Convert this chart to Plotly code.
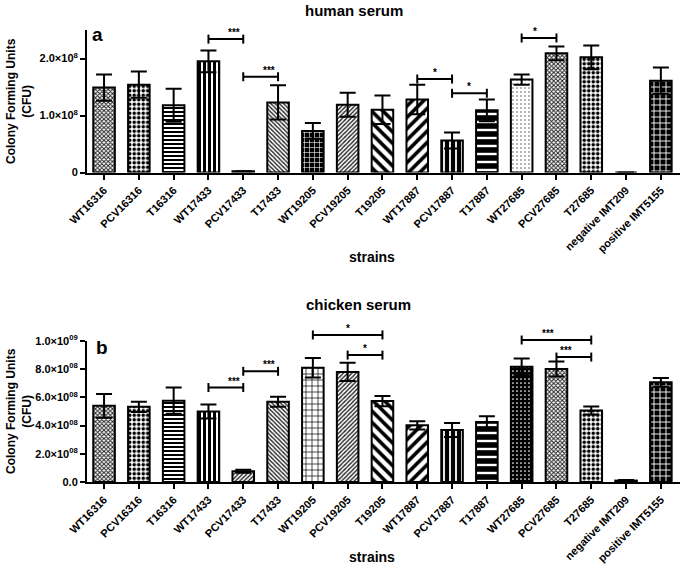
import plotly.graph_objects as go

strains = ["WT16316", "PCV16316", "T16316", "WT17433", "PCV17433", "T17433",
           "WT19205", "PCV19205", "T19205", "WT17887", "PCV17887", "T17887",
           "WT27685", "PCV27685", "T27685", "negative IMT209", "positive IMT5155"]

# human serum, CFU (mean, SD)
human_cfu = [1.49e8, 1.54e8, 1.18e8, 1.95e8, 0.02e8, 1.23e8, 0.73e8, 1.19e8, 1.10e8,
             1.28e8, 0.56e8, 1.09e8, 1.63e8, 2.09e8, 2.02e8, 0.0, 1.61e8]
human_sd = [0.23e8, 0.23e8, 0.29e8, 0.19e8, 0.0, 0.30e8, 0.14e8, 0.21e8, 0.25e8,
            0.26e8, 0.14e8, 0.19e8, 0.09e8, 0.12e8, 0.21e8, 0.0, 0.23e8]

# chicken serum, CFU (mean, SD)
chicken_cfu = [5.40e8, 5.33e8, 5.77e8, 5.00e8, 0.76e8, 5.69e8, 8.10e8, 7.81e8, 5.74e8,
               4.02e8, 3.69e8, 4.26e8, 8.17e8, 8.02e8, 5.07e8, 0.10e8, 7.07e8]
chicken_sd = [0.84e8, 0.36e8, 0.93e8, 0.50e8, 0.10e8, 0.36e8, 0.69e8, 0.64e8, 0.36e8,
              0.29e8, 0.50e8, 0.41e8, 0.59e8, 0.53e8, 0.29e8, 0.04e8, 0.31e8]

# significance brackets: (bar i, bar j, height, label)
human_sig = [(3, 4, 2.34e8, "***"), (4, 5, 1.68e8, "***"), (9, 10, 1.64e8, "*"),
             (10, 11, 1.39e8, "*"), (12, 13, 2.36e8, "*")]
chicken_sig = [(3, 4, 6.7e8, "***"), (4, 5, 7.85e8, "***"), (6, 8, 10.43e8, "*"),
               (7, 8, 9.0e8, "*"), (12, 14, 10.07e8, "***"), (13, 14, 8.86e8, "***")]

human_ticks = [0, 1e8, 2e8]
human_ticktext = ["0", "1.0×10<sup>8</sup>", "2.0×10<sup>8</sup>"]
chicken_ticks = [0, 2e8, 4e8, 6e8, 8e8, 1e9]
chicken_ticktext = ["0.0", "2.0×10<sup>08</sup>", "4.0×10<sup>08</sup>",
                    "6.0×10<sup>08</sup>", "8.0×10<sup>08</sup>", "1.0×10<sup>09</sup>"]

X_RANGE = [-0.49, 16.55]
Y1_MAX = 2.5e8
Y2_MAX = 1.0e9

# pattern styles (shape, fg, bg, size, solidity)
PAT = {
    "gray_fine": ("x", "#222", "white", 3, 0.55),
    "checker": (".", "black", "white", 4.5, 0.5),
    "hlines": ("-", "black", "white", 4, 0.5),
    "vlines": ("|", "black", "white", 5, 0.6),
    "diag_gray": ("\\", "#222", "white", 3, 0.45),
    "grid_wb": ("+", "white", "black", 5, 0.22),
    "grid_wb_big": ("+", "white", "black", 6, 0.28),
    "grid_bw": ("+", "black", "white", 6, 0.22),
    "fwd_gray": ("/", "#222", "white", 3, 0.45),
    "back_bold": ("\\", "black", "white", 8, 0.45),
    "fwd_bold": ("/", "black", "white", 8, 0.45),
    "vlines_wb": ("|", "white", "black", 6, 0.3),
    "hlines_wb": ("-", "white", "black", 8, 0.3),
    "dots_light": (".", "#999", "white", 4, 0.18),
    "dots_dark": (".", "white", "black", 4, 0.15),
    "solid": (".", "black", "black", 4, 0.5),
}
human_pat = ["gray_fine", "checker", "hlines", "vlines", "diag_gray", "diag_gray",
             "grid_wb", "fwd_gray", "back_bold", "fwd_bold", "vlines_wb", "hlines_wb",
             "dots_light", "gray_fine", "checker", "gray_fine", "grid_wb_big"]
chicken_pat = ["gray_fine", "checker", "hlines", "vlines", "fwd_gray", "diag_gray",
               "grid_bw", "fwd_gray", "back_bold", "fwd_bold", "vlines_wb", "hlines_wb",
               "dots_dark", "gray_fine", "checker", "solid", "grid_wb_big"]

FONT = "Arial, Liberation Sans, sans-serif"


def pattern(names):
    p = [PAT[n] for n in names]
    return dict(shape=[q[0] for q in p], fgcolor=[q[1] for q in p],
                bgcolor=[q[2] for q in p], size=[q[3] for q in p],
                solidity=[q[4] for q in p], fillmode="replace")


def bar_trace(vals, sd, pats, xa, ya):
    return go.Bar(
        x=strains, y=vals, xaxis=xa, yaxis=ya, width=0.62, showlegend=False,
        marker=dict(color="white", line=dict(color="black", width=2),
                    pattern=pattern(pats)),
        error_y=dict(type="data", array=sd, color="black", thickness=2, width=8))


fig = go.Figure()
fig.add_trace(bar_trace(human_cfu, human_sd, human_pat, "x", "y"))
fig.add_trace(bar_trace(chicken_cfu, chicken_sd, chicken_pat, "x2", "y2"))


def xdom(i):
    return (i - X_RANGE[0]) / (X_RANGE[1] - X_RANGE[0])


shapes, annotations = [], []
for sig, xs, ys, ymax in [(human_sig, "x", "y", Y1_MAX), (chicken_sig, "x2", "y2", Y2_MAX)]:
    for i, j, h, lab in sig:
        yd = h / ymax
        x0, x1 = xdom(i), xdom(j)
        shapes.append(dict(type="line", xref=xs + " domain", yref=ys + " domain",
                           x0=x0, x1=x1, y0=yd, y1=yd, line=dict(color="black", width=2)))
        for xc in (x0, x1):
            shapes.append(dict(type="line", xref=xs + " domain", yref=ys + " domain",
                               ysizemode="pixel", yanchor=yd, y0=-4.5, y1=4.5,
                               x0=xc, x1=xc, line=dict(color="black", width=2)))
        annotations.append(dict(xref=xs + " domain", yref=ys + " domain",
                                x=(x0 + x1) / 2, y=yd, yanchor="bottom", yshift=-1,
                                text=lab, showarrow=False,
                                font=dict(size=10, family=FONT, weight="bold")))

# margins: l=87, r=5, t=30, b=86 -> plot area 593 x 452 px


def px(x):
    return (x - 87) / 593


def py(y):
    return (482 - y) / 452


def txt(x, y, s, size, angle=0):
    annotations.append(dict(xref="paper", yref="paper", x=px(x), y=py(y), text=s,
                            showarrow=False, textangle=angle, xanchor="center",
                            yanchor="middle",
                            font=dict(size=size, family=FONT, weight="bold",
                                      color="black")))


txt(354, 11, "human serum", 15)
txt(358, 304, "chicken serum", 15)
txt(372, 257, "strains", 14)
txt(372, 557, "strains", 14)
txt(97, 34, "a", 19)
txt(102, 347, "b", 19)
txt(19, 101, "Colony Forming Units<br>(CFU)", 12, -90)
txt(19, 411, "Colony Forming Units<br>(CFU)", 12, -90)

tickfont = dict(size=11, family=FONT, weight="bold", color="black")
xaxis_common = dict(range=X_RANGE, showline=True, linewidth=2, linecolor="black",
                    ticks="outside", ticklen=5, tickwidth=2, tickcolor="black",
                    tickangle=-45, tickfont=tickfont, showgrid=False, zeroline=False)
yaxis_common = dict(showline=True, linewidth=2, linecolor="black", ticks="outside",
                    ticklen=5, tickwidth=2, tickcolor="black", tickfont=tickfont,
                    showgrid=False, zeroline=False)

fig.update_layout(
    width=685, height=568,
    margin=dict(l=87, r=5, t=30, b=86),
    paper_bgcolor="white", plot_bgcolor="white",
    font=dict(family=FONT, color="black"),
    xaxis=dict(anchor="y", **xaxis_common),
    yaxis=dict(domain=[py(172.5), 1.0], range=[0, Y1_MAX], tickvals=human_ticks,
               ticktext=human_ticktext, anchor="x", **yaxis_common),
    xaxis2=dict(anchor="y2", **xaxis_common),
    yaxis2=dict(domain=[0, py(341)], range=[0, Y2_MAX], tickvals=chicken_ticks,
                ticktext=chicken_ticktext, anchor="x2", **yaxis_common),
    shapes=shapes,
    annotations=annotations,
)

# page body margin would push the figure 8px down/right
fig.write_html("out.html", config={"displayModeBar": False},
               post_script="document.body.style.margin='0';")
